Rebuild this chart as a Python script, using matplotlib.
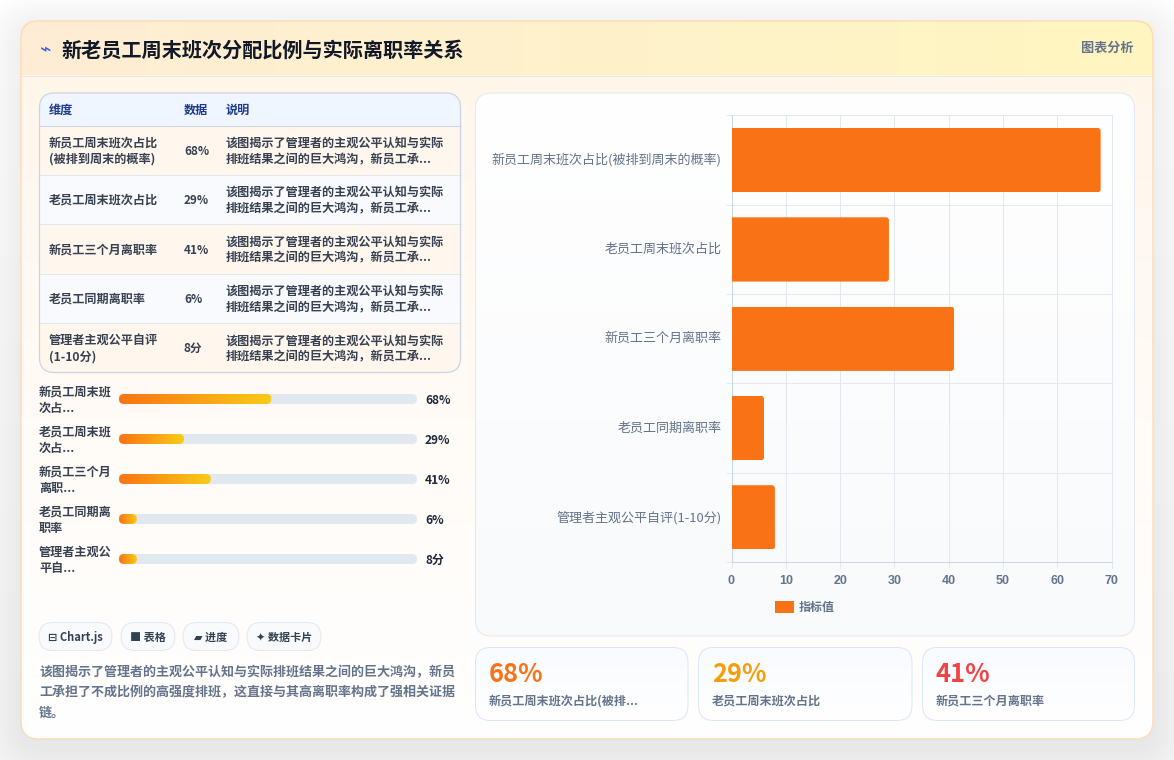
import numpy as np
import matplotlib
matplotlib.use("Agg")
import matplotlib.pyplot as plt
from matplotlib.colors import to_rgb
from matplotlib.patches import FancyBboxPatch, Patch, Rectangle
from matplotlib.transforms import ScaledTranslation

plt.rcParams["font.family"] = ["Noto Sans CJK SC", "DejaVu Sans"]

# =============================
# Data
# =============================
TITLE = "新老员工周末班次分配比例与实际离职率关系"
chart_labels = [
    "新员工周末班次占比(被排到周末的概率)",
    "老员工周末班次占比",
    "新员工三个月离职率",
    "老员工同期离职率",
    "管理者主观公平自评(1-10分)",
]
values = [68, 29, 41, 6, 8]
value_texts = ["68%", "29%", "41%", "6%", "8分"]
x_ticks = [0, 10, 20, 30, 40, 50, 60, 70]

table_headers = ["维度", "数据", "说明"]
table_dims = [
    "新员工周末班次占比\n(被排到周末的概率)",
    "老员工周末班次占比",
    "新员工三个月离职率",
    "老员工同期离职率",
    "管理者主观公平自评\n(1-10分)",
]
table_note = "该图揭示了管理者的主观公平认知与实际\n排班结果之间的巨大鸿沟，新员工承..."

progress_labels = [
    "新员工周末班\n次占...",
    "老员工周末班\n次占...",
    "新员工三个月\n离职...",
    "老员工同期离\n职率",
    "管理者主观公\n平自...",
]

tags = ["⊟ Chart.js", "■ 表格", "▰ 进度", "✦ 数据卡片"]
summary_lines = [
    "该图揭示了管理者的主观公平认知与实际排班结果之间的巨大鸿沟，新员",
    "工承担了不成比例的高强度排班，这直接与其高离职率构成了强相关证据",
    "链。",
]

card_values = ["68%", "29%", "41%"]
card_labels = ["新员工周末班次占比(被排...", "老员工周末班次占比", "新员工三个月离职率"]
card_colors = ["#f97316", "#f59e0b", "#ef4444"]

ORANGE = "#f97316"
GRID = "#e2e8f0"
SLATE = "#64748b"
DARK = "#374151"
PX = 0.72  # one pixel in points at dpi 100


# =============================
# Drawing helpers (pixel coordinates, y pointing down)
# =============================
def round_box(ax, x0, y0, x1, y1, r, fc="none", ec="none", lw=PX, alpha=None, z=1):
    box = FancyBboxPatch(
        (x0, y0), x1 - x0, y1 - y0,
        boxstyle=f"round,pad=0,rounding_size={r}",
        fc=fc, ec=ec, lw=lw, alpha=alpha, zorder=z,
    )
    ax.add_patch(box)
    return box


def gradient_box(ax, x0, y0, x1, y1, r, c0, c1, ec="none", lw=PX, horizontal=False, z=1):
    """Fill a rounded box with a two colour gradient."""
    t = np.linspace(0, 1, 256)[:, None]
    rgb = (1 - t) * np.array(to_rgb(c0)) + t * np.array(to_rgb(c1))
    img = rgb[None, :, :] if horizontal else rgb[:, None, :]
    im = ax.imshow(
        img, extent=(x0, x1, y1, y0), origin="upper",
        aspect="auto", interpolation="bilinear", zorder=z,
    )
    clip = round_box(ax, x0, y0, x1, y1, r, fc="none", ec=ec, lw=lw, z=z + 0.1)
    im.set_clip_path(clip)
    return clip


def label(ax, x, y, s, px=12, color=DARK, weight="bold", ha="left", family=None, z=5):
    ax.text(
        x, y + 1, s, fontsize=px * 0.727, color=color, fontweight=weight,
        ha=ha, va="center", zorder=z, family=family or ["Noto Sans CJK SC", "DejaVu Sans"],
    )


def two_lines(ax, x, yc, text, gap=16, **kw):
    lines = text.split("\n")
    top = yc - gap * (len(lines) - 1) / 2
    for i, line in enumerate(lines):
        label(ax, x, top + i * gap, line, **kw)


fig = plt.figure(figsize=(11.74, 7.6), dpi=100, facecolor="#ffffff")
bg = fig.add_axes([0, 0, 1, 1])
bg.set_axis_off()

# page backdrop and card shadow
gradient_box(bg, 0, 0, 1174, 760, 0, "#ffffff", "#f6f6f7", z=0)
for i in range(14):
    grow = (14 - i) * 2.5
    round_box(bg, 21 - grow, 29 - grow, 1153 + grow, 747 + grow, 18 + grow,
              fc="#0f172a", alpha=0.005, z=0.5)

# main card
card = gradient_box(bg, 21, 21, 1153, 739, 18, "#fff6eb", "#ffffff", z=1)
card.set_edgecolor("#fbdcb4")
card.set_linewidth(1.0)
card.set_zorder(2.5)

# header strip
header = gradient_box(bg, 21, 21, 1153, 96, 12, "#ffedd5", "#fef6c0", horizontal=True, z=1.5)
cover = Rectangle((21, 75), 1132, 30, fc="#fff6ea", ec="none", zorder=1.8)
bg.add_patch(cover)
bg.plot([21, 1153], [75.5, 75.5], color="#e9e7e2", lw=PX, zorder=2)
label(bg, 40, 49, "⌁", px=19, color="#3b5bdb", weight="normal", family=["DejaVu Sans"])
label(bg, 61.5, 49.5, TITLE, px=20, color="#111827")
label(bg, 1133, 47, "图表分析", px=13, color=SLATE, ha="right")

# table
tx0, tx1 = 39.5, 460.5
ty0, ty1 = 93, 372.5
row_edges = [126, 175, 224, 274, 323, ty1]
row_fills = ["#fff7ee", "#f8fafd"]
frame = round_box(bg, tx0, ty0, tx1, ty1, 15, fc="#ffffff", ec="none", z=2)
head_rect = Rectangle((tx0, ty0), tx1 - tx0, row_edges[0] - ty0, fc="#eff6ff", ec="none", zorder=2.1)
bg.add_patch(head_rect)
head_rect.set_clip_path(frame)
for x, h in zip([49, 184, 226], table_headers):
    label(bg, x, 109.5, h, px=12, color="#1e3a8a")
bg.plot([tx0, tx1], [125.5, 125.5], color="#cbd5e1", lw=PX, zorder=2.4)
for i, dim in enumerate(table_dims):
    y0, y1 = row_edges[i], row_edges[i + 1]
    row = Rectangle((tx0, y0), tx1 - tx0, y1 - y0, fc=row_fills[i % 2], ec="none", zorder=2.1)
    bg.add_patch(row)
    row.set_clip_path(frame)
    if i < 4:
        bg.plot([tx0, tx1], [y1 - 0.5, y1 - 0.5], color=GRID, lw=PX, zorder=2.4)
    yc = (y0 + y1) / 2
    two_lines(bg, 49, yc, dim, px=12)
    label(bg, 184, yc, value_texts[i], px=11.6)
    two_lines(bg, 226, yc, table_note, px=12)
round_box(bg, tx0, ty0, tx1, ty1, 15, ec="#cbd5e1", lw=0.9, z=2.6)

# progress bars
for i, (name, v, txt) in enumerate(zip(progress_labels, values, value_texts)):
    yc = 399 + i * 40
    two_lines(bg, 39, yc + 0.5, name, px=12)
    round_box(bg, 119, yc - 5, 417, yc + 5, 5, fc="#e2e8f0", z=2)
    frac = max(v / 133, 0.06)
    gradient_box(bg, 119, yc - 5, 119 + 298 * frac, yc + 5, 5, ORANGE, "#facc15", horizontal=True, z=2.2)
    label(bg, 425, yc + 0.5, txt, px=11.8, color="#1e293b")

# tag pills
tag_spans = [(39, 112), (121, 175), (183, 239), (247, 321)]
for (x0, x1), tag in zip(tag_spans, tags):
    round_box(bg, x0, 622.5, x1, 650.5, 14, fc="#f8fafc", ec=GRID, z=2)
    label(bg, (x0 + x1) / 2, 636, tag, px=11, color="#334155", ha="center")

for i, line in enumerate(summary_lines):
    label(bg, 39, 671 + i * 20.3, line, px=12.9, color=SLATE)

# chart panel
gradient_box(bg, 475.5, 93, 1134.5, 636, 16, "#ffffff", "#f8fafc", ec=GRID, z=2)

# metric cards
card_spans = [(475.5, 688), (698.5, 912), (922.5, 1134.5)]
for (x0, x1), v, name, c in zip(card_spans, card_values, card_labels, card_colors):
    gradient_box(bg, x0, 647.5, x1, 720.5, 15, "#f8fbff", "#ffffff", ec="#dbe7f6", z=2)
    label(bg, x0 + 13.5, 673, v, px=25.2, color=c)
    label(bg, x0 + 13.5, 700, name, px=12, color=SLATE)

bg.set_xlim(0, 1174)
bg.set_ylim(760, 0)

# =============================
# Horizontal bar chart
# =============================
W, H = 1174.0, 760.0
ax = fig.add_axes([731.5 / W, 1 - 562 / H, 380 / W, 446.5 / H])
ax.patch.set_alpha(0)
positions = np.arange(len(values))
bars = ax.barh(positions, values, height=0.72, color=ORANGE, zorder=3)
ax.set_xlim(0, 70)
ax.set_ylim(len(values) - 0.5, -0.5)

# round the free end of each bar
px_x = 380 / 70
px_y = 446.5 / len(values)
radius = 3 / px_x
for bar in bars:
    shape = FancyBboxPatch(
        (-2, bar.get_y()), bar.get_width() + 2, bar.get_height(),
        boxstyle=f"round,pad=0,rounding_size={radius}",
        mutation_aspect=(3 / px_y) / radius,
        transform=ax.transData,
    )
    bar.set_clip_path(shape)

ax.set_xticks(x_ticks)
ax.set_yticks(positions)
ax.set_yticklabels(chart_labels, fontsize=9.4, color=SLATE)
ax.set_yticks(np.arange(len(values) + 1) - 0.5, minor=True)
ax.tick_params(axis="y", which="major", length=0, pad=7.2)
ax.tick_params(axis="y", which="minor", length=4.3, color=GRID, width=PX)
ax.tick_params(axis="x", length=4.3, color=GRID, width=PX, pad=4.8, labelsize=9, labelcolor=SLATE)
for t in ax.get_xticklabels():
    t.set_family("Liberation Sans")
    t.set_fontweight("bold")
# nudge the category labels up a little so they sit centred on the bars
lift = ScaledTranslation(0, 1.5 / 100, fig.dpi_scale_trans)
for t in ax.get_yticklabels():
    t.set_transform(t.get_transform() + lift)
ax.grid(True, axis="x", color=GRID, lw=PX, zorder=1, clip_on=False)
ax.grid(True, axis="y", which="minor", color=GRID, lw=PX, zorder=1, clip_on=False)
ax.set_axisbelow(True)
for side in ["top", "right"]:
    ax.spines[side].set_visible(False)
for side in ["left", "bottom"]:
    ax.spines[side].set_color("#cbd5e1")
    ax.spines[side].set_linewidth(PX)

handle = Patch(fc=ORANGE, ec="none", label="指标值")
legend = ax.legend(
    handles=[handle], loc="center left", frameon=False,
    bbox_to_anchor=(764.5 / W, 1 - 607.5 / H), bbox_transform=fig.transFigure,
    handlelength=1.56, handleheight=1.15, handletextpad=0.4,
    borderpad=0.4, prop={"size": 8.64, "weight": "bold"},
)
legend.get_texts()[0].set_color(SLATE)

fig.savefig("out.png", dpi=100, facecolor=fig.get_facecolor())
plt.close(fig)
